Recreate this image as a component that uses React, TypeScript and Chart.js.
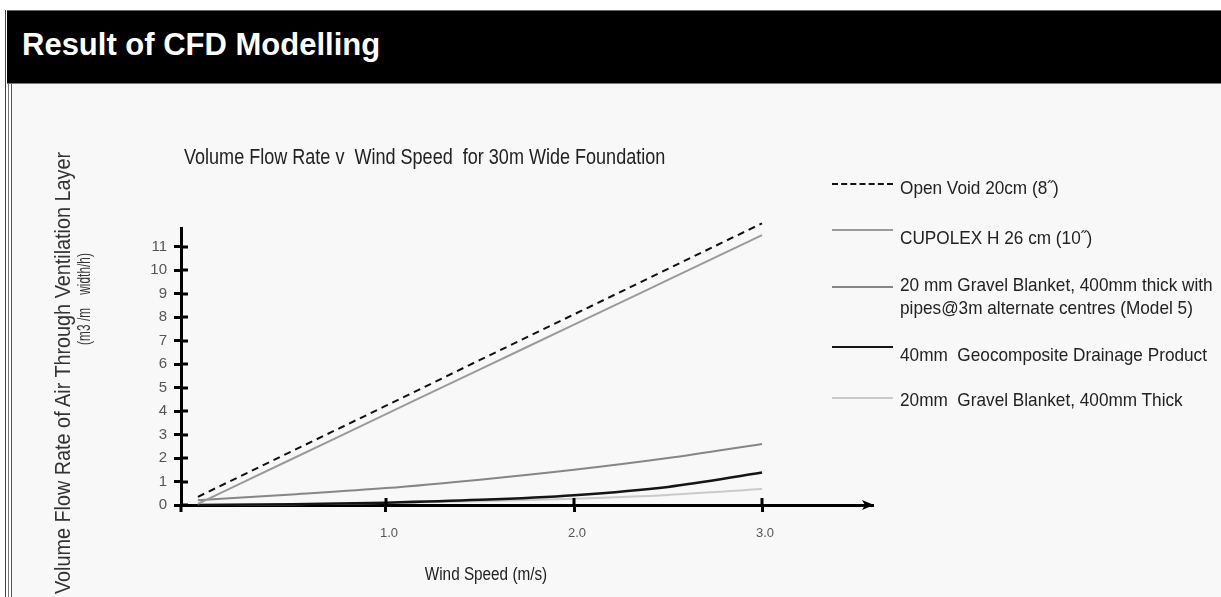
import React, { useEffect, useRef } from "react";
import { Chart, registerables } from "chart.js";

Chart.register(...registerables);

// ---- data ----
const windSpeed = [0, 0.5, 1, 1.5, 2, 2.5, 3];
const openVoid = [0.35, 2.29, 4.23, 6.18, 8.12, 10.06, 12.0];
const cupolex = [0.05, 1.96, 3.87, 5.78, 7.68, 9.59, 11.5];
const gravelPipes = [0.2, 0.45, 0.72, 1.08, 1.5, 2.0, 2.6];
const geocomposite = [0, 0.03, 0.1, 0.22, 0.42, 0.77, 1.38];
const gravelBlanket = [0, 0.03, 0.08, 0.16, 0.27, 0.43, 0.68];

const seriesNames = [
  "Open Void 20cm (8\u02dd)",
  "CUPOLEX H 26 cm (10\u02dd)",
  "20 mm Gravel Blanket, 400mm thick with\npipes@3m alternate centres (Model 5)",
  "40mm  Geocomposite Drainage Product",
  "20mm  Gravel Blanket, 400mm Thick",
];

const yTicks = [0, 1, 2, 3, 4, 5, 6, 7, 8, 9, 10, 11];
const xTicks = [1, 2, 3];
const xTickLabels = ["1.0", "2.0", "3.0"];

const headerText = "Result of CFD Modelling";
const chartTitle = "Volume Flow Rate v  Wind Speed  for 30m Wide Foundation";
const yTitle1 = "Volume Flow Rate of Air Through Ventilation Layer";
const yTitle2 = "(m3 /m    width/h)";
const xTitle = "Wind Speed (m/s)";

// ---- styles ----
const SANS = '"Liberation Sans", Arial, sans-serif';
const seriesStyles = [
  { color: "#111111", width: 2, dash: [7, 5] },
  { color: "#9a9a9a", width: 2, dash: [] as number[] },
  { color: "#868686", width: 2, dash: [] as number[] },
  { color: "#151515", width: 2.5, dash: [] as number[] },
  { color: "#cacaca", width: 2, dash: [] as number[] },
];
const legendLineY = [184, 230, 287, 347, 398];
const legendTextY = [187, 237, 284, 354, 399];

const axisDecor = {
  id: "axisDecor",
  afterDraw(chart: any) {
    const { ctx, chartArea, scales } = chart;
    const xs = scales.x;
    const ys = scales.y;
    const { left, right, bottom } = chartArea;
    ctx.save();
    ctx.strokeStyle = "#000";
    ctx.lineWidth = 3;
    ctx.beginPath();
    ys.ticks.forEach((t: any) => {
      const py = Math.round(ys.getPixelForValue(t.value));
      ctx.moveTo(left, py);
      ctx.lineTo(left + 7, py);
    });
    xs.ticks.forEach((t: any) => {
      const px = Math.round(xs.getPixelForValue(t.value));
      ctx.moveTo(px, bottom);
      ctx.lineTo(px, bottom - 7);
    });
    ctx.moveTo(left, bottom);
    ctx.lineTo(left, bottom + 7);
    ctx.stroke();
    ctx.fillStyle = "#000";
    ctx.beginPath();
    ctx.moveTo(right + 1, bottom);
    ctx.lineTo(right - 11, bottom - 5);
    ctx.lineTo(right - 8, bottom);
    ctx.lineTo(right - 11, bottom + 5);
    ctx.closePath();
    ctx.fill();
    ctx.restore();
  },
};

export default function App() {
  const ref = useRef<HTMLCanvasElement | null>(null);

  useEffect(() => {
    document.body.style.margin = "0";
    const canvas = ref.current;
    if (!canvas) return;
    const series = [openVoid, cupolex, gravelPipes, geocomposite, gravelBlanket];
    const chart = new Chart(canvas, {
      type: "line",
      data: {
        datasets: series.map((vals, i) => ({
          label: seriesNames[i],
          data: windSpeed.map((x, j) => ({ x, y: vals[j] })),
          borderColor: seriesStyles[i].color,
          borderWidth: seriesStyles[i].width,
          borderDash: seriesStyles[i].dash,
          pointRadius: 0,
          fill: false,
          cubicInterpolationMode: "monotone" as const,
          clip: false as any,
        })),
      },
      options: {
        animation: false,
        responsive: false,
        layout: { padding: { left: 141, right: 27, top: 228, bottom: 32 } },
        plugins: {
          legend: { display: false },
          title: { display: false },
          tooltip: { enabled: false },
        },
        scales: {
          x: {
            type: "linear",
            min: -0.09,
            max: 3.59,
            afterBuildTicks: (s: any) => {
              s.ticks = xTicks.map((v) => ({ value: v }));
            },
            afterFit: (s: any) => {
              s.height = 60;
            },
            ticks: {
              autoSkip: false,
              maxRotation: 0,
              padding: 14,
              labelOffset: 3,
              color: "#555",
              font: { family: SANS, size: 13 },
              callback: (v: any) => {
                const k = xTicks.indexOf(Number(v));
                return k >= 0 ? xTickLabels[k] : "";
              },
            },
            grid: { drawOnChartArea: false, color: "#000", tickLength: 7, tickWidth: 3 },
            border: { display: true, color: "#000", width: 3 },
          },
          y: {
            type: "linear",
            min: 0,
            max: 11.8,
            afterBuildTicks: (s: any) => {
              s.ticks = yTicks.map((v) => ({ value: v }));
            },
            afterFit: (s: any) => {
              s.width = 40;
            },
            ticks: {
              padding: 7,
              color: "#555",
              font: { family: SANS, size: 15 },
            },
            grid: { drawOnChartArea: false, color: "#000", tickLength: 7, tickWidth: 3 },
            border: { display: true, color: "#000", width: 3 },
          },
        },
      },
      plugins: [axisDecor],
    } as any);
    return () => chart.destroy();
  }, []);

  const abs = (s: React.CSSProperties): React.CSSProperties => ({ position: "absolute", ...s });

  return (
    <div
      style={{
        position: "fixed",
        left: 0,
        top: 0,
        width: 1221,
        height: 597,
        background: "#ffffff",
        overflow: "hidden",
        fontFamily: SANS,
      }}
    >
      <div style={abs({ left: 5, top: 10, width: 1, height: 587, background: "#444" })} />
      <div style={abs({ left: 8, top: 10, width: 1, height: 587, background: "#777" })} />
      <div
        style={abs({
          left: 7,
          top: 10,
          width: 1214,
          height: 74,
          background: "#000",
          borderTop: "1px solid #666",
          borderBottom: "1px solid #777",
          boxSizing: "border-box",
        })}
      />
      <div
        style={abs({
          left: 22,
          top: 30,
          height: 30,
          lineHeight: "30px",
          color: "#fff",
          fontWeight: 700,
          fontSize: 31,
          whiteSpace: "nowrap",
        })}
      >
        {headerText}
      </div>
      <div
        style={abs({
          left: 11,
          top: 84,
          width: 1210,
          height: 513,
          background: "#f8f8f8",
          borderLeft: "1px solid #555",
          boxSizing: "border-box",
        })}
      />
      <canvas ref={ref} width={900} height={597} style={abs({ left: 0, top: 0, width: 900, height: 597 })} />
      <div
        style={abs({
          left: 184,
          top: 157 - 13,
          height: 26,
          lineHeight: "26px",
          fontSize: 22,
          color: "#222",
          whiteSpace: "pre",
          transform: "scaleX(0.82)",
          transformOrigin: "0 50%",
        })}
      >
        {chartTitle}
      </div>
      <div
        style={abs({
          left: 63,
          top: 373,
          fontSize: 22,
          lineHeight: "22px",
          color: "#333",
          whiteSpace: "pre",
          transform: "translate(-50%, -50%) rotate(-90deg) scaleX(0.9)",
        })}
      >
        {yTitle1}
      </div>
      <div
        style={abs({
          left: 84,
          top: 299,
          fontSize: 18,
          lineHeight: "20px",
          color: "#333",
          whiteSpace: "pre",
          transform: "translate(-50%, -50%) rotate(-90deg) scaleX(0.66)",
        })}
      >
        {yTitle2}
      </div>
      <div
        style={abs({
          left: 486,
          top: 574,
          fontSize: 18,
          lineHeight: "20px",
          color: "#222",
          whiteSpace: "pre",
          transform: "translate(-50%, -50%) scaleX(0.85)",
        })}
      >
        {xTitle}
      </div>
      {seriesNames.map((name, i) => (
        <React.Fragment key={i}>
          <div
            style={abs({
              left: 832,
              top: legendLineY[i] - 1,
              width: 61,
              height: 0,
              borderTop: `${seriesStyles[i].width}px ${i === 0 ? "dashed" : "solid"} ${seriesStyles[i].color}`,
            })}
          />
          <div
            style={abs({
              left: 900,
              top: legendTextY[i] - 11.5,
              fontSize: 18.5,
              lineHeight: "23px",
              color: "#222",
              whiteSpace: "pre",
              transform: "scaleX(0.93)",
              transformOrigin: "0 50%",
            })}
          >
            {name}
          </div>
        </React.Fragment>
      ))}
    </div>
  );
}
